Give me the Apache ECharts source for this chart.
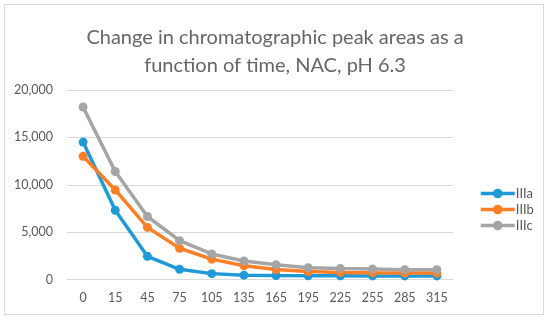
<!DOCTYPE html>
<html><head><meta charset="utf-8">
<script src="https://cdn.jsdelivr.net/npm/echarts@6/dist/echarts.min.js"></script>
<style>
html,body{margin:0;padding:0;background:#fff;}
#frame{position:absolute;left:4px;top:4px;width:540px;height:311px;border:1px solid #d9d9d9;box-sizing:border-box;}
#c{position:absolute;left:0;top:0;width:550px;height:320px;}
</style></head>
<body>
<div id="frame"></div>
<div id="c"></div>
<script>
const categories = ['0','15','45','75','105','135','165','195','225','255','285','315'];
const IIIa = [14500, 7300, 2450, 1080, 620, 460, 420, 400, 390, 380, 380, 380];
const IIIb = [13000, 9450, 5500, 3300, 2150, 1450, 1050, 850, 750, 700, 680, 680];
const IIIc = [18200, 11400, 6650, 4100, 2700, 1950, 1550, 1250, 1150, 1100, 1030, 1030];
const yTicks = [0, 5000, 10000, 15000, 20000];
const seriesNames = ['IIIa','IIIb','IIIc'];
const colors = ['#1f9ad6','#ff7f27','#a5a5a5'];

const chart = echarts.init(document.getElementById('c'));
const font = 'Lato, "Open Sans", sans-serif';
const mk = (name, data, i) => ({
  name, type:'line', data, symbol:'circle', symbolSize:9,
  lineStyle:{width:3.5, color:colors[i]}, itemStyle:{color:colors[i]},
  emphasis:{disabled:true}, z: 2
});
chart.setOption({
  animation:false,
  title:{text:'Change in chromatographic peak areas as a\nfunction of time, NAC, pH 6.3', left:'center', top:19,
    textStyle:{fontFamily:font, fontSize:20, fontWeight:'normal', color:'#666666', lineHeight:28}},
  legend:{orient:'vertical', left:474, top:182, itemGap:3, itemWidth:34, itemHeight:12,
    lineStyle:{width:3.5},
    textStyle:{fontFamily:font, fontSize:13, color:'#595959', padding:[0,0,0,-4]},
    data:seriesNames},
  grid:{left:67, right:97, top:90, bottom:40.5},
  xAxis:{type:'category', data:categories, boundaryGap:true,
    axisLine:{lineStyle:{color:'#d9d9d9'}}, axisTick:{show:false},
    axisLabel:{fontFamily:font, fontSize:12.5, color:'#595959', margin:12}},
  yAxis:{type:'value', min:yTicks[0], max:yTicks[yTicks.length-1], interval:5000,
    axisLine:{show:false}, axisTick:{show:false},
    splitLine:{lineStyle:{color:'#d9d9d9', width:1}},
    axisLabel:{fontFamily:font, fontSize:12.5, color:'#595959', margin:14,
      formatter:v=>v.toLocaleString('en-US')}},
  series:[mk('IIIa',IIIa,0), mk('IIIb',IIIb,1), mk('IIIc',IIIc,2)]
});
</script>
</body></html>
